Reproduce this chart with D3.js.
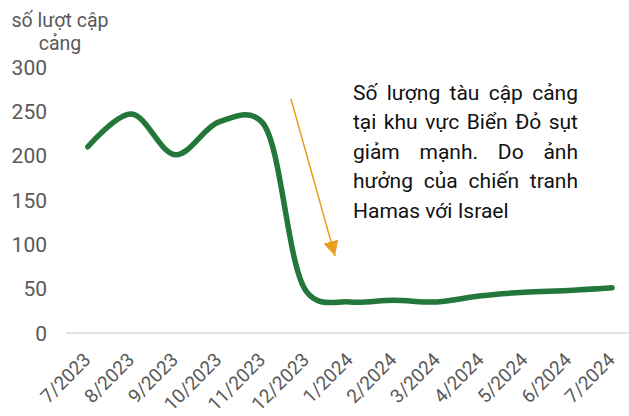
<!DOCTYPE html>
<html>
<head>
<meta charset="utf-8">
<script src="https://cdn.jsdelivr.net/npm/d3@7"></script>
<style>
  html, body { margin: 0; padding: 0; background: #fff; }
  svg { display: block; font-family: Roboto, "Noto Sans", sans-serif; }
</style>
</head>
<body>
<svg id="chart" width="629" height="416"></svg>
<script>
const categories = ["7/2023","8/2023","9/2023","10/2023","11/2023","12/2023","1/2024","2/2024","3/2024","4/2024","5/2024","6/2024","7/2024"];
const portCalls = [210, 247, 201, 238, 237, 47, 35, 37, 35, 42, 46, 48, 51];
const yTicks = [0, 50, 100, 150, 200, 250, 300];
const yTitleLines = ["số lượt cập", "cảng"];
const noteLines = ["Số lượng tàu cập cảng", "tại khu vực Biển Đỏ sụt", "giảm mạnh. Do ảnh", "hưởng của chiến tranh", "Hamas với Israel"];

const svg = d3.select("#chart");
const plotLeft = 66, plotRight = 634;
const x = d3.scaleBand().domain(categories).range([plotLeft, plotRight]);
const y = d3.scaleLinear().domain([0, 300]).range([333, 67]);
const cx = d => x(d) + x.bandwidth() / 2;

// baseline axis
svg.append("line")
  .attr("x1", plotLeft).attr("x2", 629)
  .attr("y1", y(0)).attr("y2", y(0))
  .attr("stroke", "#d9d9d9").attr("stroke-width", 1.3);

// y tick labels
svg.append("g").selectAll("text").data(yTicks).join("text")
  .attr("x", 47).attr("y", d => y(d))
  .attr("dy", "0.36em")
  .attr("text-anchor", "end")
  .attr("font-size", 21)
  .attr("fill", "#595959")
  .text(d => d);

// y title
svg.append("g").selectAll("text").data(yTitleLines).join("text")
  .attr("x", 60).attr("y", (d, i) => 27 + i * 23)
  .attr("text-anchor", "middle")
  .attr("font-size", 19.5)
  .attr("fill", "#595959")
  .text(d => d);

// x tick labels
svg.append("g").selectAll("text").data(categories).join("text")
  .attr("transform", d => `translate(${cx(d) + 4},361) rotate(-45)`)
  .attr("text-anchor", "end")
  .attr("font-size", 19)
  .attr("fill", "#595959")
  .text(d => d);

// line
const line = d3.line()
  .x((d, i) => cx(categories[i]))
  .y(d => y(d))
  .curve(d3.curveCatmullRom.alpha(0.3));
svg.append("path")
  .datum(portCalls)
  .attr("d", line)
  .attr("fill", "none")
  .attr("stroke", "#23773B")
  .attr("stroke-width", 5.5)
  .attr("stroke-linecap", "round")
  .attr("stroke-linejoin", "round");

// arrow
const arrowColor = "#E89E1C";
svg.append("defs").append("marker")
  .attr("id", "arrowhead")
  .attr("viewBox", "0 0 10 10")
  .attr("refX", 10).attr("refY", 5)
  .attr("markerWidth", 10).attr("markerHeight", 10)
  .attr("markerUnits", "strokeWidth")
  .attr("orient", "auto")
  .append("path")
  .attr("d", "M0,0 L10,5 L0,10 Z")
  .attr("fill", arrowColor);
svg.append("line")
  .attr("x1", 291).attr("y1", 99)
  .attr("x2", 335).attr("y2", 256)
  .attr("stroke", arrowColor)
  .attr("stroke-width", 1.5)
  .attr("marker-end", "url(#arrowhead)");

// annotation text (justified)
const noteLeft = 353, noteRight = 578;
const noteG = svg.append("g").attr("font-size", 21).attr("fill", "#111");
noteLines.forEach((ln, i) => {
  const by = 99.6 + i * 29.6;
  const words = ln.split(" ");
  const last = i === noteLines.length - 1;
  if (last) {
    noteG.append("text").attr("x", noteLeft).attr("y", by).text(ln);
    return;
  }
  const widths = words.map(w => {
    const t = noteG.append("text").text(w);
    const wd = t.node().getComputedTextLength();
    t.remove();
    return wd;
  });
  const total = d3.sum(widths);
  const gap = (noteRight - noteLeft - total) / (words.length - 1);
  let xp = noteLeft;
  words.forEach((w, j) => {
    noteG.append("text").attr("x", xp).attr("y", by).text(w);
    xp += widths[j] + gap;
  });
});
</script>
</body>
</html>
